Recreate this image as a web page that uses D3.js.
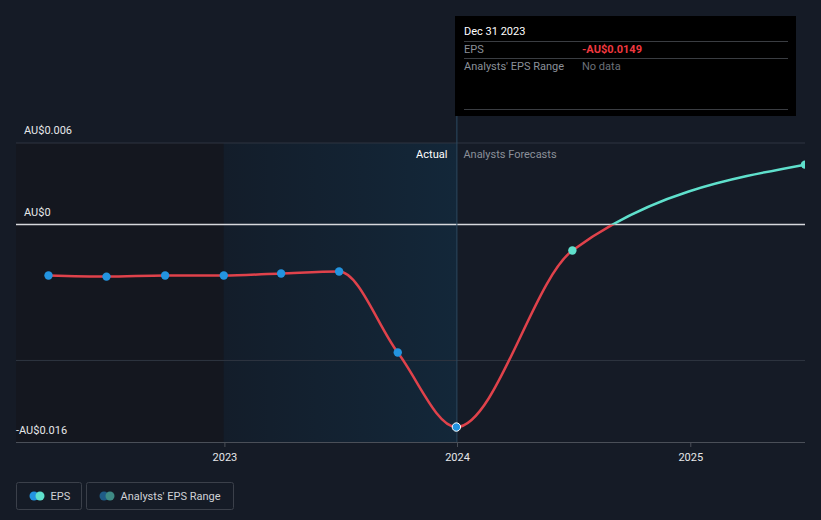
<!DOCTYPE html>
<html><head><meta charset="utf-8">
<script src="https://cdn.jsdelivr.net/npm/d3@7/dist/d3.min.js"></script>
<style>
html,body{margin:0;padding:0;background:#151b26;}
svg{display:block;font-family:Roboto,"Noto Sans",sans-serif;}
</style></head><body>
<svg id="c" width="821" height="520"></svg>
<script>
// ---- data ----
const actualDates = ["2022-03-31","2022-06-30","2022-09-30","2022-12-31","2023-03-31","2023-06-30","2023-09-30","2023-12-31"];
const actualEPS   = [-0.00375,-0.00383,-0.00375,-0.00375,-0.0036,-0.00346,-0.00942,-0.0149];
const forecastDates = ["2024-06-30","2025-06-30"];
const forecastEPS   = [-0.00191,0.00441];
const yTickValues = [0.006, 0, -0.016];
const yTickLabels = ["AU$0.006","AU$0","-AU$0.016"];
const yGridValues = [0.006, -0.010];
const xTickYears = ["2023","2024","2025"];
const tooltipDate = "Dec 31 2023";
const tooltipEPS = "-AU$0.0149";
const legendItems = ["EPS","Analysts' EPS Range"];

const parse = d3.timeParse("%Y-%m-%d");
const svg = d3.select("#c");
const W=821;
const pL=16, pR=805, pT=143, pB=442;

const x = d3.scaleTime().domain([parse("2022-02-08"), parse("2025-06-30")]).range([pL,pR]);
const y = d3.scaleLinear().domain([-0.016, 0.006]).range([pB, pT]);

const defs = svg.append("defs");
const grad = defs.append("linearGradient").attr("id","ag").attr("x1","0").attr("x2","1").attr("y1","0").attr("y2","0");
grad.append("stop").attr("offset","0").attr("stop-color","#131d2a");
grad.append("stop").attr("offset","1").attr("stop-color","#132739");
defs.append("clipPath").attr("id","above").append("rect").attr("x",0).attr("y",0).attr("width",W).attr("height",y(0));
defs.append("clipPath").attr("id","below").append("rect").attr("x",0).attr("y",y(0)).attr("width",W).attr("height",520-y(0));
defs.append("clipPath").attr("id","plot").append("rect").attr("x",pL).attr("y",0).attr("width",pR-pL).attr("height",520);

const xStart = x(parse("2022-12-31")), xNow = x(parse("2023-12-31"));
// shaded regions
svg.append("rect").attr("x",pL).attr("y",pT).attr("width",xStart-pL).attr("height",pB-pT).attr("fill","#14171f");
svg.append("rect").attr("x",xStart).attr("y",pT).attr("width",xNow-xStart).attr("height",pB-pT).attr("fill","url(#ag)");

// gridlines
svg.selectAll(".g").data(yGridValues).enter().append("line")
  .attr("x1",pL).attr("x2",pR).attr("y1",d=>y(d)).attr("y2",d=>y(d))
  .attr("stroke","#2f3540").attr("stroke-width",1);
svg.append("line").attr("x1",pL).attr("x2",pR).attr("y1",y(0)).attr("y2",y(0)).attr("stroke","#d6d8dc").attr("stroke-width",1.5);

// x axis
const xAxis = d3.axisBottom(x).tickValues(xTickYears.map(s=>parse(s+"-01-01"))).tickFormat(d3.timeFormat("%Y")).tickSize(5).tickPadding(6);
const gx = svg.append("g").attr("transform",`translate(0,${pB})`).call(xAxis);
gx.select(".domain").attr("stroke","#4a4f58").attr("d",`M${pL},0.5H${pR}`);
gx.selectAll(".tick line").attr("stroke","#4a4f58");
gx.selectAll(".tick text").attr("fill","#e6e7e9").attr("font-size",11).attr("font-family","Roboto, sans-serif");

// y labels
svg.selectAll(".yl").data(yTickValues).enter().append("text")
  .attr("x",(d,i)=> i===2 ? 16 : 24).attr("y",d=> d===-0.016 ? y(d)-8 : y(d)-9)
  .attr("fill","#e6e7e9").attr("font-size",11).text((d,i)=>yTickLabels[i]);

// vertical now line
svg.append("line").attr("x1",xNow+0.5).attr("x2",xNow+0.5).attr("y1",116).attr("y2",pB).attr("stroke","#2c4a63").attr("stroke-width",1);

svg.append("text").attr("x",xNow-9).attr("y",158).attr("text-anchor","end").attr("fill","#ffffff").attr("font-size",11).text("Actual");
svg.append("text").attr("x",xNow+7).attr("y",158).attr("fill","#8b9099").attr("font-size",11).text("Analysts Forecasts");

// lines
const line = d3.line().x(d=>x(d[0])).y(d=>y(d[1])).curve(d3.curveMonotoneX);
const act = actualDates.map((d,i)=>[parse(d),actualEPS[i]]);
const fc = forecastDates.map((d,i)=>[parse(d),forecastEPS[i]]);
const all = act.concat(fc);
const lg = svg.append("g").attr("clip-path","url(#plot)");
lg.append("g").attr("clip-path","url(#below)").append("path").datum(all).attr("d",line)
  .attr("fill","none").attr("stroke","#e0424b").attr("stroke-width",2.5);
lg.append("g").attr("clip-path","url(#above)").append("path").datum(all).attr("d",line)
  .attr("fill","none").attr("stroke","#5fe0cc").attr("stroke-width",2.5);

// dots
lg.selectAll(".ad").data(act).enter().append("circle")
  .attr("cx",d=>x(d[0])).attr("cy",d=>y(d[1])).attr("r",4.2).attr("fill","#2394e0")
  .attr("stroke",(d,i)=> i===act.length-1 ? "#ffffff":"none").attr("stroke-width",1);
lg.selectAll(".fd").data(fc).enter().append("circle")
  .attr("cx",d=>x(d[0])).attr("cy",d=>y(d[1])).attr("r",4.2).attr("fill","#5fe0cc");

// tooltip
const tt = svg.append("g");
tt.append("rect").attr("x",455).attr("y",16).attr("width",341).attr("height",100).attr("fill","#000000");
tt.append("text").attr("x",464).attr("y",35).attr("fill","#ffffff").attr("font-size",11).text(tooltipDate);
[41,58,109].forEach(yy=>tt.append("line").attr("x1",464).attr("x2",788).attr("y1",yy+0.5).attr("y2",yy+0.5).attr("stroke","#3a3d42"));
tt.append("text").attr("x",464).attr("y",53).attr("fill","#8b9099").attr("font-size",11).text("EPS");
tt.append("text").attr("x",582).attr("y",53).attr("fill","#f0383f").attr("font-size",11).attr("font-weight","bold").text(tooltipEPS);
tt.append("text").attr("x",464).attr("y",70).attr("fill","#8b9099").attr("font-size",11).text("Analysts' EPS Range");
tt.append("text").attr("x",582).attr("y",70).attr("fill","#6b7079").attr("font-size",11).text("No data");

// legend
const leg = svg.append("g");
const lw=[65,147], lx=[16.5,86.5];
legendItems.forEach((t,i)=>{
  leg.append("rect").attr("x",lx[i]).attr("y",482.5).attr("width",lw[i]).attr("height",27).attr("rx",2).attr("fill","none").attr("stroke","#3b404a");
  const c1 = i===0 ? "#2394e0" : "#1f5b86", c2 = i===0 ? "#5fe0cc" : "#3e8a84";
  leg.append("circle").attr("cx",lx[i]+17.5).attr("cy",496).attr("r",4.5).attr("fill",c1);
  leg.append("circle").attr("cx",lx[i]+23.5).attr("cy",496).attr("r",4.5).attr("fill",c2);
  leg.append("text").attr("x",lx[i]+34).attr("y",500).attr("fill","#d0d2d6").attr("font-size",11).text(t);
});
</script>
</body></html>
